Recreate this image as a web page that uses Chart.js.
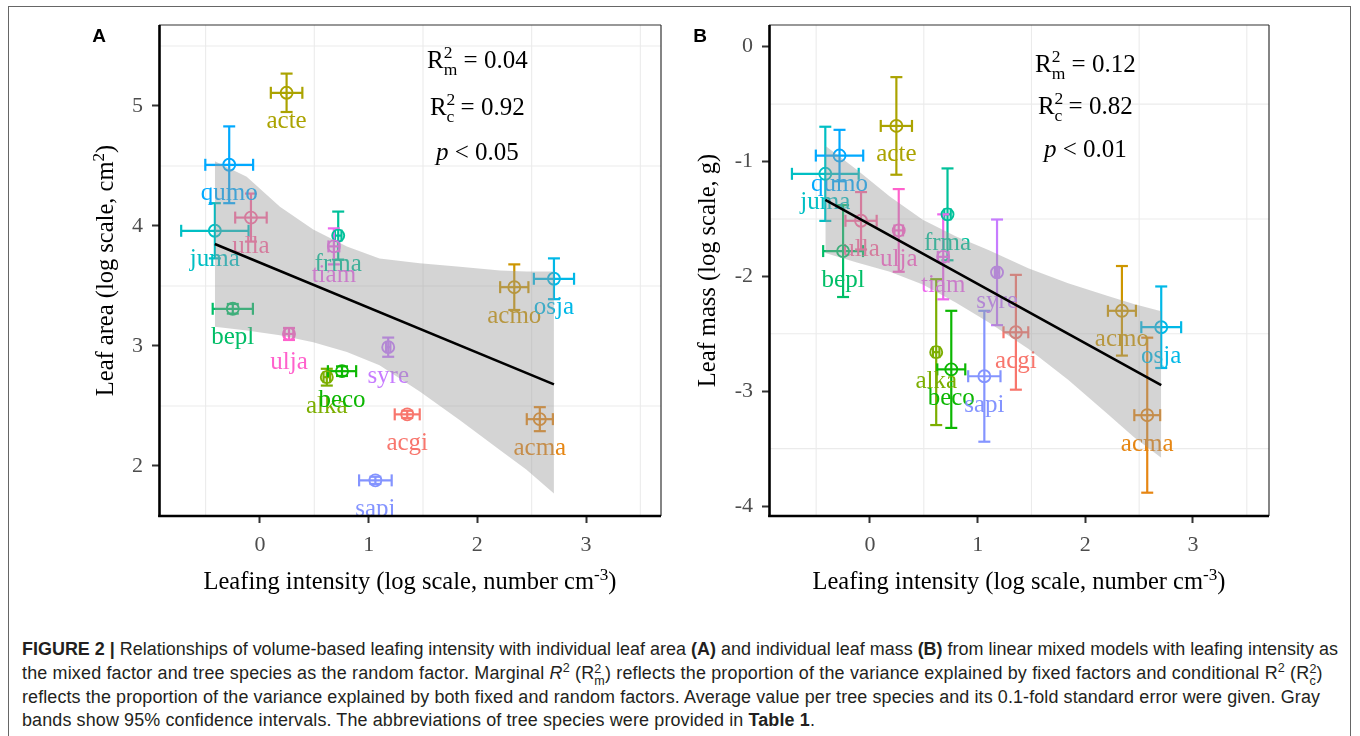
<!DOCTYPE html>
<html>
<head>
<meta charset="utf-8">
<script src="https://cdn.jsdelivr.net/npm/chart.js@4/dist/chart.umd.min.js"></script>
<style>
  body { margin: 0; background: #fff; width: 1360px; height: 736px; overflow: hidden; position: relative; }
  #frame { position: absolute; left: 8px; top: 6px; width: 1341px; height: 760px; border: 1px solid #666; border-bottom: none; pointer-events: none; z-index: 5; }
  canvas { position: absolute; top: 0; }
  #chartA { left: 0; }
  #chartB { left: 680px; }
  .cap { position: absolute; left: 22px; white-space: nowrap; font: 15px "Liberation Sans", Arial, sans-serif; color: #231f20; line-height: 20px; display: inline-block; }
  .st { display: inline-block; vertical-align: -0.45em; font-size: 0.7em; line-height: 0.95; }
  .st span { display: block; }
  sup { font-size: 0.7em; line-height: 0; }
</style>
</head>
<body>
<div id="frame"></div>
<canvas id="chartA" width="680" height="620"></canvas>
<canvas id="chartB" width="680" height="620"></canvas>

<div class="cap" id="c1" style="top:639px"><b>FIGURE 2 |</b> Relationships of volume-based leafing intensity with individual leaf area <b>(A)</b> and individual leaf mass <b>(B)</b> from linear mixed models with leafing intensity as</div>
<div class="cap" id="c2" style="top:663px">the mixed factor and tree species as the random factor. Marginal <i>R</i><sup>2</sup> (R<span class="st"><span>2</span><span>m</span></span>) reflects the proportion of the variance explained by fixed factors and conditional R<sup>2</sup> (R<span class="st"><span>2</span><span>c</span></span>)</div>
<div class="cap" id="c3" style="top:687px">reflects the proportion of the variance explained by both fixed and random factors. Average value per tree species and its 0.1-fold standard error were given. Gray</div>
<div class="cap" id="c4" style="top:710px">bands show 95% confidence intervals. The abbreviations of tree species were provided in <b>Table 1</b>.</div>

<script>
// species (alphabetical, ggplot hue order)
const species = ['acgi', 'acma', 'acmo', 'acte', 'alka', 'beco', 'bepl', 'frma', 'juma', 'osja', 'qumo', 'sapi', 'syre', 'tiam', 'ulja', 'ulla'];
const speciesColors = ['#F8766D', '#E68613', '#CD9600', '#ABA300', '#7CAE00', '#0CB702', '#00BE67', '#00C19A',
                       '#00BFC4', '#00B8E7', '#00A9FF', '#8494FF', '#C77CFF', '#ED68ED', '#FF61CC', '#FF68A1'];

// leafing intensity (log scale) and its 0.1-fold SE
const intensity   = [1.355, 2.575, 2.34, 0.245, 0.615, 0.755, -0.25, 0.72, -0.415, 2.705, -0.283, 1.062, 1.18, 0.68, 0.267, -0.083];
const intensitySE = [0.115, 0.12, 0.13, 0.145, 0.03, 0.13, 0.185, 0.03, 0.31, 0.185, 0.22, 0.15, 0.02, 0.05, 0.04, 0.145];

// panel A: leaf area (log scale, cm2)
const leafArea   = [2.43, 2.39, 3.49, 5.11, 2.74, 2.79, 3.31, 3.92, 3.96, 3.56, 4.51, 1.88, 2.99, 3.83, 3.10, 4.07];
const leafAreaSE = [0.03, 0.10, 0.19, 0.16, 0.07, 0.04, 0.04, 0.20, 0.23, 0.17, 0.32, 0.03, 0.08, 0.15, 0.05, 0.20];

// panel B: leaf mass (log scale, g)
const leafMass   = [-2.487, -3.209, -2.30, -0.69, -2.66, -2.81, -1.78, -1.46, -1.107, -2.443, -0.948, -2.87, -1.965, -1.83, -1.60, -1.516];
const leafMassSE = [0.50, 0.675, 0.39, 0.425, 0.635, 0.51, 0.40, 0.40, 0.41, 0.355, 0.224, 0.57, 0.46, 0.37, 0.36, 0.25];

// fitted lines
const fitX = [-0.415, 2.705];
const fitArea = [3.85, 2.68];
const fitMass = [-1.333, -2.948];

// 95% confidence bands
const bandX = [-0.415, -0.122, 0.184, 0.49, 0.80, 1.10, 1.47, 1.84, 2.21, 2.45, 2.705];
const bandAreaHi = [4.54, 4.41, 4.16, 3.97, 3.83, 3.73, 3.69, 3.66, 3.63, 3.62, 3.62];
const bandAreaLo = [3.16, 3.13, 3.09, 3.03, 2.95, 2.84, 2.62, 2.38, 2.13, 1.97, 1.77];
const bandMassHi = [-0.863, -1.072, -1.304, -1.507, -1.652, -1.77, -1.93, -2.06, -2.17, -2.24, -2.304];
const bandMassLo = [-1.797, -1.88, -1.96, -2.07, -2.23, -2.40, -2.63, -2.90, -3.20, -3.40, -3.579];

// axes
const xTicks = [0, 1, 2, 3];
const xMinor = [-0.5, 0.5, 1.5, 2.5, 3.5];
const areaTicks = [2, 3, 4, 5];
const areaMinor = [2.5, 3.5, 4.5, 5.5];
const massTicks = [-4, -3, -2, -1, 0];
const massMinor = [-3.5, -2.5, -1.5, -0.5];

const serif = '"Liberation Serif", "Times New Roman", serif';

// draw a run of text pieces (sup/sub/italic)
function rich(ctx, parts, x, y, size, align) {
  const fontOf = p => (p.it ? 'italic ' : '') + (size * (p.s || 1)) + 'px ' + serif;
  let w = 0;
  const ws = parts.map(p => {
    ctx.font = fontOf(p);
    const m = ctx.measureText(p.t).width;
    if (!p.stack) w += m;
    return m;
  });
  let cx = align === 'center' ? x - w / 2 : x;
  ctx.textAlign = 'left';
  ctx.textBaseline = 'alphabetic';
  parts.forEach((p, i) => {
    ctx.font = fontOf(p);
    ctx.fillText(p.t, cx, y + (p.dy || 0) * size);
    if (!p.stack) cx += ws[i];
  });
}

function seg(ctx, x0, y0, x1, y1) {
  ctx.beginPath(); ctx.moveTo(x0, y0); ctx.lineTo(x1, y1); ctx.stroke();
}

function makePanel(id, o) {
  const decor = {
    id: 'decor' + id,
    beforeDatasetsDraw(chart) {
      const { ctx, chartArea: a, scales: { x, y } } = chart;
      ctx.save();
      ctx.beginPath(); ctx.rect(a.left, a.top, a.right - a.left, a.bottom - a.top); ctx.clip();
      // minor grid only (as in the figure)
      ctx.strokeStyle = '#ebebeb'; ctx.lineWidth = 1.1;
      xMinor.forEach(v => { const p = x.getPixelForValue(v); seg(ctx, p, a.top, p, a.bottom); });
      o.yMinor.forEach(v => { const p = y.getPixelForValue(v); seg(ctx, a.left, p, a.right, p); });
      // error bars
      ctx.lineWidth = 2.2;
      species.forEach((s, i) => {
        const cx = x.getPixelForValue(intensity[i]), cy = y.getPixelForValue(o.y[i]);
        const x0 = x.getPixelForValue(intensity[i] - intensitySE[i]), x1 = x.getPixelForValue(intensity[i] + intensitySE[i]);
        const y0 = y.getPixelForValue(o.y[i] - o.se[i]), y1 = y.getPixelForValue(o.y[i] + o.se[i]);
        ctx.strokeStyle = speciesColors[i];
        seg(ctx, cx, y0, cx, y1); seg(ctx, cx - 6, y0, cx + 6, y0); seg(ctx, cx - 6, y1, cx + 6, y1);
        seg(ctx, x0, cy, x1, cy); seg(ctx, x0, cy - 6, x0, cy + 6); seg(ctx, x1, cy - 6, x1, cy + 6);
      });
      // species labels
      ctx.font = '25px ' + serif; ctx.textAlign = 'center'; ctx.textBaseline = 'alphabetic';
      species.forEach((s, i) => {
        ctx.fillStyle = speciesColors[i];
        ctx.fillText(s, x.getPixelForValue(intensity[i]), y.getPixelForValue(o.y[i]) + 35.5);
      });
      ctx.restore();
    },
    afterDatasetsDraw(chart) {
      const { ctx, chartArea: a } = chart;
      ctx.save();
      ctx.strokeStyle = '#333'; ctx.lineWidth = 1.2;
      seg(ctx, a.left, a.top, a.right, a.top);
      seg(ctx, a.right, a.top, a.right, a.bottom);
      ctx.strokeStyle = '#000'; ctx.lineWidth = 2.6;
      seg(ctx, a.left + 0.5, a.top, a.left + 0.5, a.bottom + 1);
      seg(ctx, a.left - 0.8, a.bottom, a.right, a.bottom);
      ctx.restore();
    },
    afterDraw(chart) {
      const { ctx, chartArea: a, scales: { x } } = chart;
      ctx.save();
      ctx.fillStyle = '#000';
      // R2 annotation
      const ax = x.getPixelForValue(2);
      rich(ctx, [{ t: 'R' }, { t: '2', s: 0.7, dy: -0.42, stack: true }, { t: 'm', s: 0.7, dy: 0.28 }, { t: ' = ' + o.r2m }], ax, o.ann[0], 25, 'center');
      rich(ctx, [{ t: 'R' }, { t: '2', s: 0.7, dy: -0.42, stack: true }, { t: 'c', s: 0.7, dy: 0.28 }, { t: ' = ' + o.r2c }], ax, o.ann[1], 25, 'center');
      rich(ctx, [{ t: 'p', it: true }, { t: ' < ' + o.p }], ax, o.ann[2], 25, 'center');
      // axis titles
      rich(ctx, [{ t: 'Leafing intensity (log scale, number cm' }, { t: '-3', s: 0.7, dy: -0.38 }, { t: ')' }], (a.left + a.right) / 2, 589, 24.5, 'center');
      ctx.save();
      ctx.translate(o.yTitleX, (a.top + a.bottom) / 2);
      ctx.rotate(-Math.PI / 2);
      rich(ctx, o.yTitle, 0, 0, 24.5, 'center');
      ctx.restore();
      // panel tag
      ctx.font = 'bold 19px "Liberation Sans", Arial, sans-serif';
      ctx.textAlign = 'center'; ctx.textBaseline = 'alphabetic';
      ctx.fillText(o.tag, o.tagX, 42);
      ctx.restore();
    }
  };

  const tickFont = { family: serif, size: 22 };
  return new Chart(document.getElementById(id), {
    type: 'scatter',
    data: {
      datasets: [
        { data: bandX.map((v, i) => ({ x: v, y: o.hi[i] })), showLine: true, fill: '+1', backgroundColor: 'rgba(153,153,153,0.42)',
          borderWidth: 0, pointRadius: 0, order: 2 },
        { data: bandX.map((v, i) => ({ x: v, y: o.lo[i] })), showLine: true, fill: false, borderWidth: 0, pointRadius: 0, order: 2 },
        { data: fitX.map((v, i) => ({ x: v, y: o.fit[i] })), showLine: true, borderColor: '#000', borderWidth: 2.6, pointRadius: 0, order: 1 },
        { data: species.map((s, i) => ({ x: intensity[i], y: o.y[i] })), pointRadius: 6, pointBorderWidth: 1.9,
          pointBackgroundColor: 'rgba(0,0,0,0)', pointBorderColor: speciesColors, order: 3 }
      ]
    },
    options: {
      responsive: false,
      animation: false,
      layout: { padding: { left: 0, right: o.padRight, top: 25, bottom: 0 } },
      plugins: { legend: { display: false }, tooltip: { enabled: false } },
      scales: {
        x: {
          type: 'linear', min: o.xMin, max: o.xMax,
          afterFit: s => { s.height = 104; },
          afterBuildTicks: s => { s.ticks = xTicks.map(v => ({ value: v })); },
          grid: { drawOnChartArea: false, tickLength: 7, tickWidth: 2, tickColor: '#333' },
          border: { display: false },
          ticks: { font: tickFont, color: '#4d4d4d', padding: 9, maxRotation: 0, callback: v => String(v) }
        },
        y: {
          type: 'linear', min: o.yMin, max: o.yMax,
          afterFit: s => { s.width = o.yWidth; },
          afterBuildTicks: s => { s.ticks = o.yTicks.map(v => ({ value: v })); },
          grid: { drawOnChartArea: false, tickLength: 7, tickWidth: 2, tickColor: '#333' },
          border: { display: false },
          ticks: { font: tickFont, color: '#4d4d4d', padding: 9, callback: v => String(v) }
        }
      }
    },
    plugins: [decor]
  });
}

makePanel('chartA', {
  y: leafArea, se: leafAreaSE, fit: fitArea, hi: bandAreaHi, lo: bandAreaLo,
  yTicks: areaTicks, yMinor: areaMinor, xMin: -0.929, xMax: 3.69, yMin: 1.583, yMax: 5.675,
  yWidth: 159, padRight: 19, yTitleX: 113, tag: 'A', tagX: 99,
  r2m: '0.04', r2c: '0.92', p: '0.05', ann: [68, 115, 160],
  yTitle: [{ t: 'Leaf area (log scale, cm' }, { t: '2', s: 0.7, dy: -0.38 }, { t: ')' }]
});

makePanel('chartB', {
  y: leafMass, se: leafMassSE, fit: fitMass, hi: bandMassHi, lo: bandMassLo,
  yTicks: massTicks, yMinor: massMinor, xMin: -0.938, xMax: 3.706, yMin: -4.087, yMax: 0.189,
  yWidth: 89, padRight: 91, yTitleX: 35, tag: 'B', tagX: 20,
  r2m: '0.12', r2c: '0.82', p: '0.01', ann: [72, 114, 157],
  yTitle: [{ t: 'Leaf mass (log scale, g)' }]
});

// fit caption lines to the widths in the figure: scale the font from line 1, then trim each line
const capWidths = { c1: 1316, c2: 1301, c3: 1298, c4: 793 };
const w1 = document.getElementById('c1').getBoundingClientRect().width;
const capSize = Math.min(18, 15 * capWidths.c1 / w1);
Object.keys(capWidths).forEach(id => {
  const el = document.getElementById(id);
  el.style.fontSize = capSize.toFixed(2) + 'px';
  const w = el.getBoundingClientRect().width;
  el.style.letterSpacing = ((capWidths[id] - w) / el.textContent.length).toFixed(3) + 'px';
});
</script>
</body>
</html>
